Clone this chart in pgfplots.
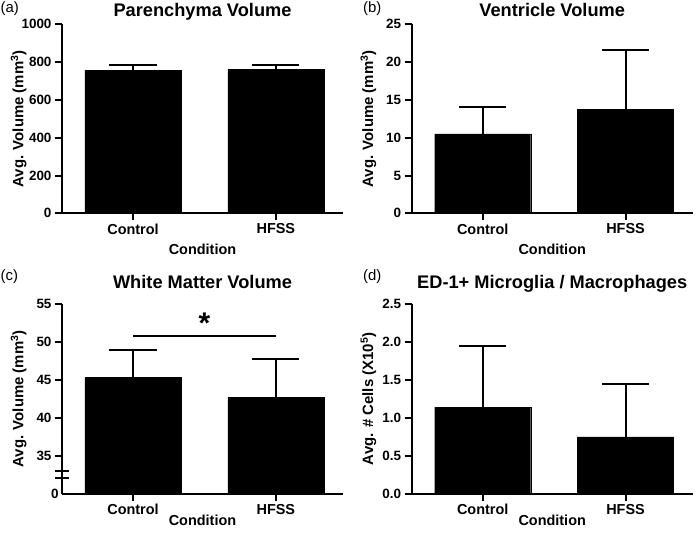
\documentclass[border=0pt]{standalone}
\usepackage{pgfplots}
\pgfplotsset{compat=1.18}
\usepackage{fontspec}
\setmainfont{Liberation Sans}
\begin{document}
\begin{tikzpicture}
\useasboundingbox (0,0) rectangle (700bp,-537bp);
\pgfplotsset{
  panel/.style={
    scale only axis, width=281bp, height=189bp,
    axis lines=left, axis line style={-, line width=2bp, black},
    xmin=-0.497, xmax=1.47,
    xtick={0,1}, xticklabels={Control,HFSS},
    major tick style={line width=2bp, black},
    tick align=outside, major tick length=7bp,
    minor tick num=0,
    ybar, bar width=96bp,
    /pgf/number format/assume math mode=true,
    /pgf/number format/1000 sep={},
    yticklabel style={font=\fontsize{13.5}{15}\selectfont\bfseries},
    xticklabel style={font=\fontsize{14.5}{16}\selectfont\bfseries},
    xlabel={Condition},
    xlabel style={font=\fontsize{14.5}{16}\selectfont\bfseries},
    ylabel style={font=\fontsize{15}{17}\selectfont\bfseries, at={(axis description cs:-0.1377,0.5)}, anchor=base},
    xlabel style={at={(axis description cs:0.5,-0.2206)}, anchor=base},
    every axis title/.style={font=\fontsize{18.3}{20}\selectfont\bfseries, at={(0.5,1)}, anchor=base, yshift=#1},
  },
  panel/.default=8bp,
  bars/.style={fill=black, draw=black,
    error bars/.cd, y dir=plus, y explicit,
    error bar style={line width=2bp, black},
    error mark options={rotate=90, mark size=23.5bp, line width=2bp, black}},
}
% (a)
\begin{axis}[panel=8bp, at={(62bp,-213.3bp)}, anchor=south west,
  ymin=0, ymax=1000, ytick={0,200,...,1000},
  title={Parenchyma Volume}, ylabel={Avg. Volume (mm$^{\mathbf{3}}$)}]
\addplot[bars] coordinates {(0,757) +- (0,30) (1,762) +- (0,22)};
\end{axis}
% (b)
\begin{axis}[panel=8bp, at={(411.7bp,-213.3bp)}, anchor=south west,
  ymin=0, ymax=25, ytick={0,5,...,25},
  title={Ventricle Volume}, ylabel={Avg. Volume (mm$^{\mathbf{3}}$)}]
\addplot[bars] coordinates {(0,10.49) +- (0,3.6) (1,13.75) +- (0,7.8)};
\end{axis}
% (c)
\begin{axis}[panel=15.7bp, at={(62bp,-494bp)}, anchor=south west, height=190.3bp,
  ymin=30, ymax=55, ytick={35,40,...,55},
  extra y ticks={30}, extra y tick labels={0},
  extra y tick style={major tick length=0pt},
  xlabel style={at={(axis description cs:0.5,-0.168)}, anchor=base},
  title={White Matter Volume}, ylabel={Avg. Volume (mm$^{\mathbf{3}}$)}]
\addplot[bars] coordinates {(0,45.3) +- (0,3.6) (1,42.7) +- (0,5.0)};
\draw[line width=2bp] (axis cs:0,50.76) -- (axis cs:1,50.76);
\node[font=\fontsize{30}{32}\selectfont\bfseries, inner sep=0pt] at (axis cs:0.5,52.5) {*};
\end{axis}
\draw[line width=2bp] (55bp,-470.7bp) -- (69bp,-470.7bp);
\draw[line width=2bp] (55bp,-477.7bp) -- (69bp,-477.7bp);
% (d)
\begin{axis}[panel=15.7bp, at={(411.7bp,-494bp)}, anchor=south west, height=190.3bp,
  ymin=0, ymax=2.5, ytick={0,0.5,...,2.5},
  yticklabel style={/pgf/number format/.cd, fixed, fixed zerofill, precision=1},
  xlabel style={at={(axis description cs:0.5,-0.168)}, anchor=base},
  title={ED-1+ Microglia / Macrophages}, ylabel={Avg. \# Cells (X10$^{\mathbf{5}}$)}]
\addplot[bars] coordinates {(0,1.14) +- (0,0.80) (1,0.75) +- (0,0.70)};
\end{axis}
% panel letters
\node[anchor=base west, inner sep=0pt, font=\fontsize{15}{17}\selectfont] at (0.5bp,-12.5bp) {(a)};
\node[anchor=base west, inner sep=0pt, font=\fontsize{15}{17}\selectfont] at (363bp,-12.5bp) {(b)};
\node[anchor=base west, inner sep=0pt, font=\fontsize{15}{17}\selectfont] at (0.5bp,-280bp) {(c)};
\node[anchor=base west, inner sep=0pt, font=\fontsize{15}{17}\selectfont] at (363bp,-280bp) {(d)};
\end{tikzpicture}
\end{document}
